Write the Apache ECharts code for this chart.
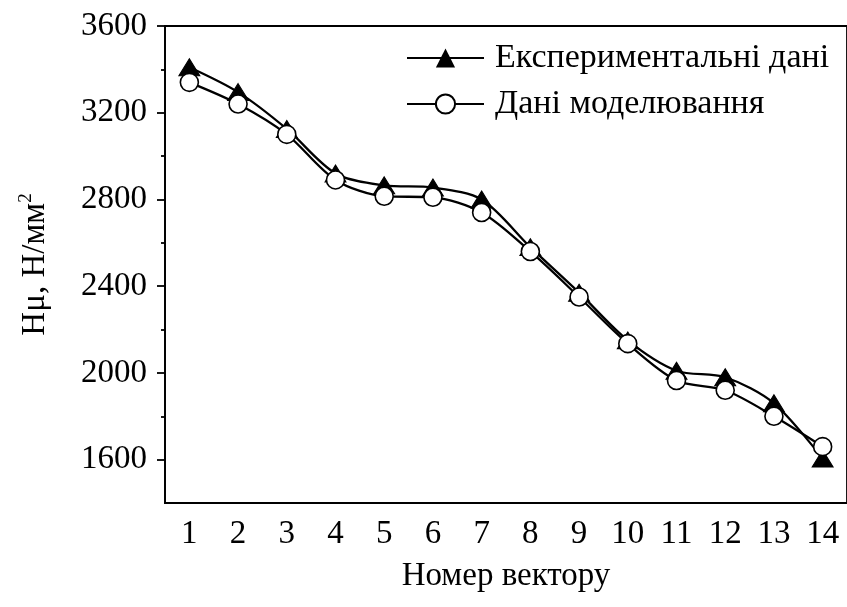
<!DOCTYPE html>
<html>
<head>
<meta charset="utf-8">
<script src="https://cdn.jsdelivr.net/npm/echarts@6/dist/echarts.min.js"></script>
<style>
  html, body { margin: 0; padding: 0; background: #fff; }
  #chart { width: 847px; height: 607px; }
</style>
</head>
<body>
<div id="chart"></div>
<script>
// Vector numbers on the horizontal axis
const vectors = ['1', '2', '3', '4', '5', '6', '7', '8', '9', '10', '11', '12', '13', '14'];
// Microhardness, N/mm^2
const experimental = [3410, 3295, 3125, 2920, 2865, 2855, 2800, 2580, 2370, 2150, 2010, 1980, 1860, 1605];
const simulated = [3340, 3240, 3100, 2890, 2815, 2810, 2740, 2560, 2350, 2135, 1965, 1920, 1800, 1660];
// Y axis: labelled major ticks and short unlabelled minor ticks
const yMajorTicks = [1600, 2000, 2400, 2800, 3200, 3600];
const yMinorTicks = [1800, 2200, 2600, 3000, 3400];
const yMin = 1400;
const yMax = 3600;

const FONT = '"Liberation Serif", "Times New Roman", serif';
const FS = 33;
const chart = echarts.init(document.getElementById('chart'), null, { renderer: 'canvas' });

chart.setOption({
  backgroundColor: '#fff',
  animation: false,
  grid: {
    left: 165, top: 26, right: -10, bottom: 104,
    show: true, borderColor: '#000', borderWidth: 1.8
  },
  legend: {
    orient: 'vertical',
    left: 401, top: 36,
    itemWidth: 77, itemHeight: 24, itemGap: 12,
    textStyle: { fontFamily: FONT, fontSize: 34, color: '#000', lineHeight: 32, padding: [0, 0, 0, 6] },
    data: ['Експериментальні дані', 'Дані моделювання']
  },
  xAxis: {
    type: 'category',
    data: vectors,
    boundaryGap: true,
    name: 'Номер вектору',
    nameLocation: 'middle',
    nameGap: 57,
    nameTextStyle: { fontFamily: FONT, fontSize: FS, color: '#000' },
    axisLine: { lineStyle: { color: '#000', width: 1.8 } },
    axisTick: { alignWithLabel: true, length: 7, lineStyle: { color: '#000', width: 1.8 } },
    axisLabel: { fontFamily: FONT, fontSize: FS, color: '#000', margin: 15 },
    splitLine: { show: false }
  },
  yAxis: [{
    type: 'value',
    min: yMin, max: yMax,
    name: '{a|Нμ, Н/мм}{s|2}',
    nameLocation: 'middle',
    nameGap: 112,
    nameRotate: 90,
    nameTextStyle: {
      rich: {
        a: { fontFamily: FONT, fontSize: FS, color: '#000', lineHeight: 36 },
        s: { fontFamily: FONT, fontSize: 19, color: '#000', lineHeight: 36, verticalAlign: 'top', padding: [0, 0, 14, 0] }
      }
    },
    axisLine: { show: true, lineStyle: { color: '#000', width: 1.8 } },
    axisTick: { show: true, length: 8, customValues: yMajorTicks, lineStyle: { color: '#000', width: 1.8 } },
    axisLabel: {
      fontFamily: FONT, fontSize: FS, color: '#000', margin: 18,
      customValues: yMajorTicks,
      formatter: v => String(v)
    },
    splitLine: { show: false }
  }, {
    type: 'value',
    position: 'left',
    min: yMin, max: yMax,
    axisLine: { show: false },
    axisTick: { show: true, length: 4, customValues: yMinorTicks, lineStyle: { color: '#000', width: 1.8 } },
    axisLabel: { show: false },
    splitLine: { show: false }
  }],
  series: [{
    name: 'Експериментальні дані',
    type: 'line',
    data: experimental,
    smooth: 0.3,
    symbol: 'triangle',
    symbolSize: [21, 17],
    itemStyle: { color: '#000', borderColor: '#000' },
    lineStyle: { color: '#000', width: 2.3 },
    z: 2
  }, {
    name: 'Дані моделювання',
    type: 'line',
    data: simulated,
    smooth: 0.3,
    symbol: 'circle',
    symbolSize: 18,
    showAllSymbol: true,
    itemStyle: { color: '#fff', borderColor: '#000', borderWidth: 1.6 },
    lineStyle: { color: '#000', width: 2.3 },
    z: 3
  }]
});
</script>
</body>
</html>
